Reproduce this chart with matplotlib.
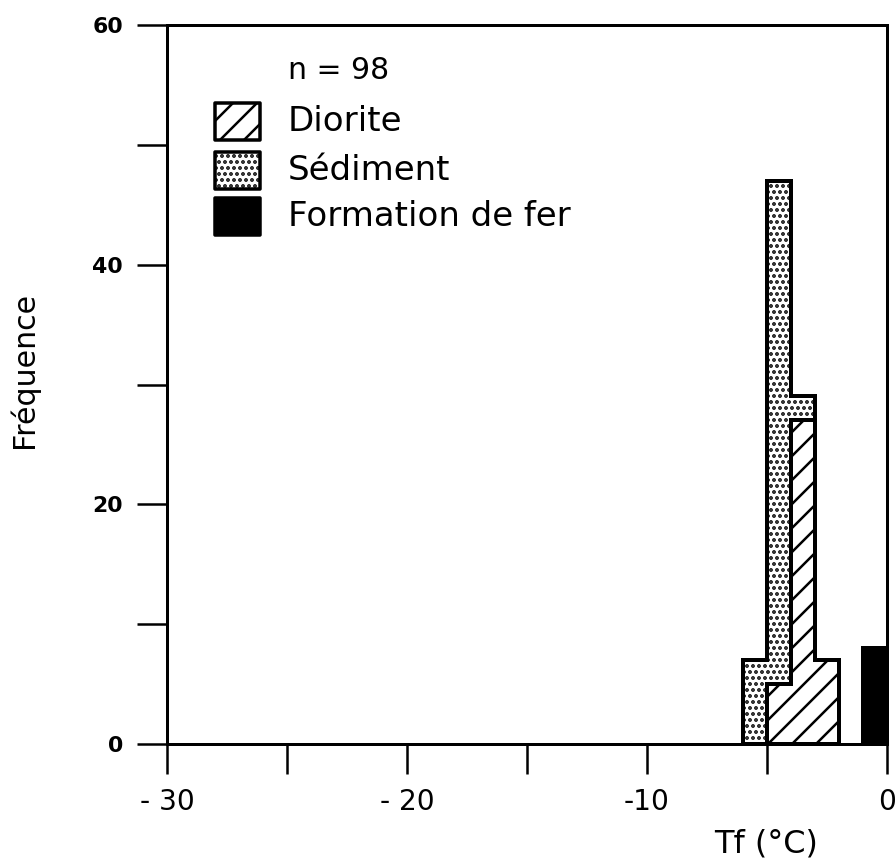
import numpy as np
import matplotlib as mpl
import matplotlib.pyplot as plt
from matplotlib.patches import Rectangle

plt.rcParams['font.family'] = 'DejaVu Sans'
plt.rcParams['hatch.linewidth'] = 2.5

# histogram bins (1 degree wide) and counts per host rock
bin_edges = np.arange(-6, 1, 1)
diorite = np.array([0, 5, 27, 7, 0, 0])
sediment = np.array([7, 42, 2, 0, 0, 0])
fer = np.array([0, 0, 0, 0, 0, 8])
n_total = int(diorite.sum() + sediment.sum() + fer.sum())

labels = ["Diorite", "Sédiment", "Formation de fer"]
xticks = [-30, -25, -20, -15, -10, -5, 0]
xticklabels = ["- 30", "", "- 20", "", "-10", "", "0"]

styles = [dict(facecolor='white', hatch='/'),
          dict(facecolor='white', hatch='..'),
          dict(facecolor='black')]
hatch_lw = [2.5, 2.5, 2.5]


def draw_layer(ax, counts, base, **kw):
    # stacked step outline, trimmed to the non-empty bins
    idx = np.nonzero(counts)[0]
    lo, hi = idx[0], idx[-1] + 1
    ax.stairs(base[lo:hi] + counts[lo:hi], bin_edges[lo:hi + 1],
              baseline=base[lo:hi], fill=True, edgecolor='black',
              linewidth=4, **kw)


fig = plt.figure(figsize=(895 / 72, 867 / 72), dpi=72)
ax = fig.add_axes([167 / 895, (867 - 744) / 867, 720 / 895, 719 / 867])

base = np.zeros(len(diorite), dtype=int)
for counts, st, hlw in zip([diorite, sediment, fer], styles, hatch_lw):
    with mpl.rc_context({'hatch.linewidth': hlw}):
        draw_layer(ax, counts, base, **st)
    base = base + counts

ax.set_xlim(-30, 0)
ax.set_ylim(0, 60)
for s in ax.spines.values():
    s.set_linewidth(3)

ax.set_xticks(xticks)
ax.set_xticklabels(xticklabels, fontsize=28)
ax.set_yticks([0, 20, 40, 60])
ax.set_yticks([10, 30, 50], minor=True)
ax.set_yticklabels(["0", "20", "40", "60"], fontsize=22, fontweight='bold')
ax.tick_params(axis='y', which='both', direction='out', length=30, width=2.5, pad=14)
ax.tick_params(axis='x', direction='out', length=30, width=2.5, pad=14)

ax.set_xlabel("Tf (°C)", fontsize=32)
ax.xaxis.set_label_coords(0.832, -0.118)
ax.set_ylabel("Fréquence", fontsize=30)
ax.yaxis.set_label_coords(-0.178, 0.52)

# hand-made legend
ax.text(0.168, 0.937, f"n = {n_total}", transform=ax.transAxes,
        fontsize=30, va='center', ha='left')
rows_y = [0.866, 0.798, 0.734]
for y, lab, st, hlw in zip(rows_y, labels, styles, hatch_lw):
    with mpl.rc_context({'hatch.linewidth': hlw}):
        ax.add_patch(Rectangle((0.0667, y - 0.026), 0.0625, 0.052, transform=ax.transAxes,
                               edgecolor='black', linewidth=3.5, joinstyle='round', **st))
    ax.text(0.168, y, lab, transform=ax.transAxes, fontsize=34,
            va='center', ha='left')

fig.savefig('out.png', dpi=72)
